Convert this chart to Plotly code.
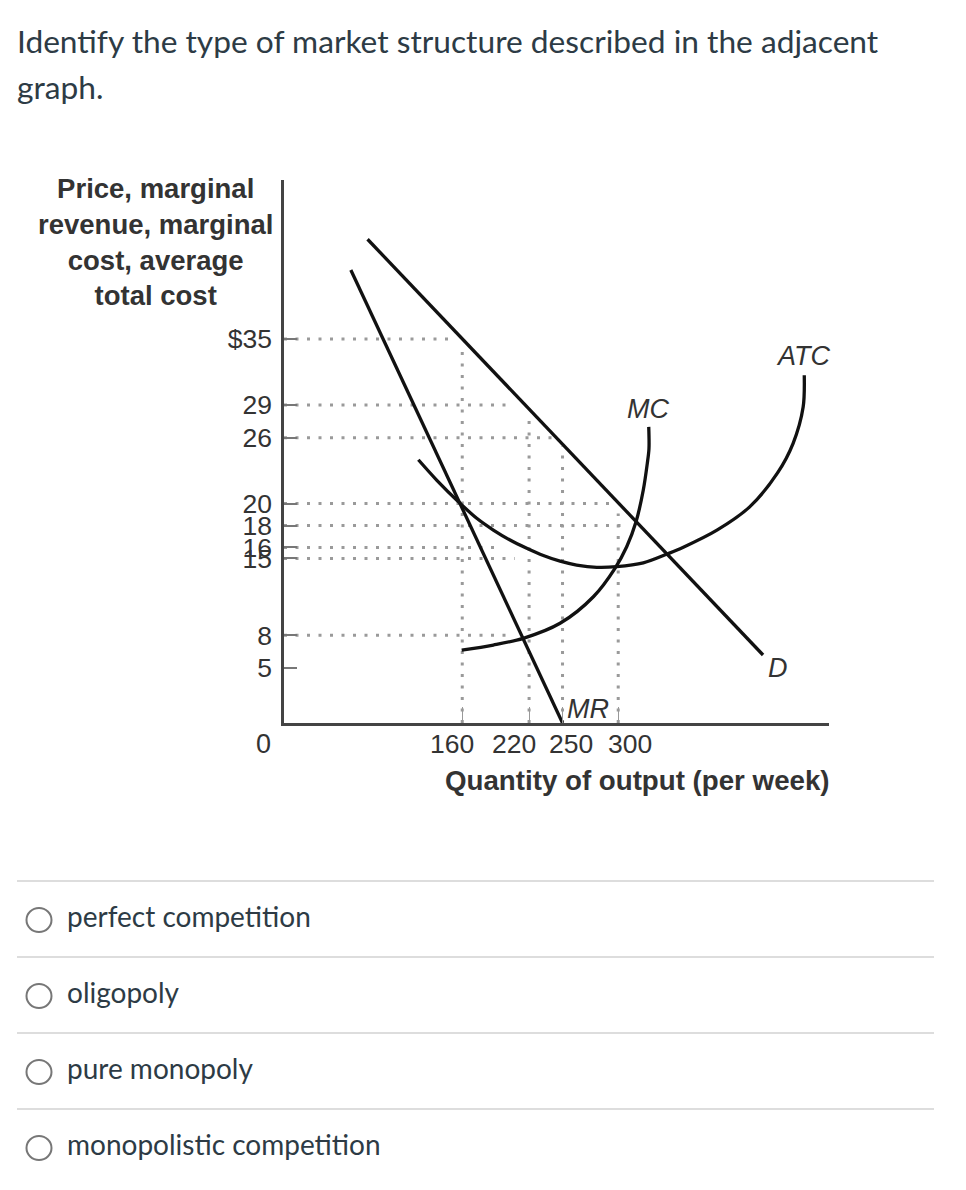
import plotly.graph_objects as go

# ---------------- data ----------------
price_ticks = [35, 29, 26, 20, 18, 16, 15, 8, 5]
price_tick_text = ["$35", "29", "26", "20", "18", "16", "15", "8", "5"]
qty_ticks = [160, 220, 250, 300]
qty_tick_text = ["160", "220", "250", "300"]

demand_q = [75, 430]
demand_p = [44.1, 6.2]

mr_q = [60, 250]
mr_p = [41.3, 0.0]

atc_q = [120.6, 137, 158, 173, 187.9, 202.9, 217.9, 232.8, 247.8, 262.7, 280.7, 298.7,
         322.5, 345, 358, 389, 418, 443, 457, 466, 467]
atc_p = [24.0, 22.15, 20.03, 18.66, 17.59, 16.68, 15.93, 15.27, 14.75, 14.40, 14.19, 14.25,
         14.60, 15.45, 16.0, 17.6, 19.7, 22.8, 25.5, 28.8, 31.7]

mc_q = [159.5, 187.9, 214.8, 247.8, 277.7, 297.1, 307.6, 316.0, 322.5, 326.1, 327.6, 327.4]
mc_p = [6.65, 7.11, 7.72, 9.09, 11.51, 14.10, 16.07, 18.35, 21.24, 23.67, 25.0, 27.0]

# dotted guide lines: horizontal (price level, quantity where it stops)
guide_h_p = [35, 29, 26, 20, 18, 16, 15, 8]
guide_h_q = [150, 203, 245, 293, 309, 192, 207, 205]
# vertical (quantity, price where it starts)
guide_v_q = [160, 220, 250, 300]
guide_v_p = [34.0, 28.0, 25.2, 19.1]

question_lines = ["Identify the type of market structure described in the adjacent", "graph."]
options = ["perfect competition", "oligopoly", "pure monopoly", "monopolistic competition"]
y_title = "Price, marginal<br>revenue, marginal<br>cost, average<br>total cost"
x_title = "Quantity of output (per week)"

# ---------------- layout geometry ----------------
PAGE = 8                      # browser body margin
W, H = 966 - 2 * PAGE, 1190 - 2 * PAGE
L, R, T, B = 284, 829, 180, 723  # plot area in page pixels
X_MAX = 489.2
Y_MAX = 49.5


def px(x):
    return (x - L) / (R - L)


def py(y):
    return (B - y) / (B - T)


AX = "#444444"
TXT = "#333333"
CURVE = "#111111"
GUIDE = "#9a9a9a"
ARIAL = "Liberation Sans, Arial, sans-serif"
LATO = "Lato, sans-serif"

fig = go.Figure()

for p, q in zip(guide_h_p, guide_h_q):
    fig.add_trace(go.Scatter(x=[0, q], y=[p, p], mode="lines",
                             line=dict(color=GUIDE, width=3, dash="3px,8.5px"),
                             hoverinfo="skip", showlegend=False))
for q, p in zip(guide_v_q, guide_v_p):
    fig.add_trace(go.Scatter(x=[q, q], y=[0, p], mode="lines",
                             line=dict(color=GUIDE, width=3, dash="3px,8.5px"),
                             hoverinfo="skip", showlegend=False))

curve_line = dict(color=CURVE, width=3.3)
fig.add_trace(go.Scatter(x=demand_q, y=demand_p, mode="lines", line=curve_line,
                         name="D", showlegend=False))
fig.add_trace(go.Scatter(x=mr_q, y=mr_p, mode="lines", line=curve_line,
                         name="MR", showlegend=False))
fig.add_trace(go.Scatter(x=atc_q, y=atc_p, mode="lines",
                         line=dict(color=CURVE, width=3.3, shape="spline", smoothing=0.9),
                         name="ATC", showlegend=False))
fig.add_trace(go.Scatter(x=mc_q, y=mc_p, mode="lines",
                         line=dict(color=CURVE, width=3.3, shape="spline", smoothing=0.9),
                         name="MC", showlegend=False))

annotations = []
# curve labels
for txt, x, y in [("ATC", 466, 33.5), ("MC", 327, 28.6), ("D", 443, 5.0), ("MR", 273, 1.3)]:
    annotations.append(dict(x=x, y=y, xref="x", yref="y", text="<i>%s</i>" % txt,
                            showarrow=False, font=dict(family=ARIAL, size=27, color=TXT)))

# x tick labels (spread apart as in the original)
label_shift = [-10, -15, 8, 12]
for q, t, s in zip(qty_ticks, qty_tick_text, label_shift):
    annotations.append(dict(x=q, y=0, xref="x", yref="y", text=t, showarrow=False,
                            xanchor="center", yanchor="middle", yshift=-21, xshift=s,
                            font=dict(family=ARIAL, size=26.5, color=TXT)))
# zero label at the corner
annotations.append(dict(x=0, y=0, xref="x", yref="y", text="0", showarrow=False,
                        xanchor="right", yanchor="middle", xshift=-11, yshift=-21,
                        font=dict(family=ARIAL, size=27, color=TXT)))
# axis titles
annotations.append(dict(x=px(155), y=py(242), xref="paper", yref="paper", text="<b>%s</b>" % y_title,
                        showarrow=False, xanchor="center", yanchor="middle", align="center",
                        font=dict(family=ARIAL, size=27.5, color=TXT)))
annotations.append(dict(x=px(637), y=py(780), xref="paper", yref="paper", text="<b>%s</b>" % x_title,
                        showarrow=False, xanchor="center", yanchor="middle",
                        font=dict(family=ARIAL, size=27.7, color=TXT)))
# question text
for i, line in enumerate(question_lines):
    annotations.append(dict(x=px(15), y=py(41 + 46 * i), xref="paper", yref="paper", text=line,
                            showarrow=False, xanchor="left", yanchor="middle",
                            font=dict(family=LATO, size=31.7, color="#2d3b45")))

shapes = []
sep_y = [881, 957, 1033, 1109]
for i, opt in enumerate(options):
    yy = sep_y[i]
    shapes.append(dict(type="line", xref="paper", yref="paper", x0=px(17), x1=px(934),
                       y0=py(yy), y1=py(yy), line=dict(color="#dddddd", width=2)))
    cy = yy + 39
    shapes.append(dict(type="circle", xref="paper", yref="paper",
                       x0=px(39 - 12.5), x1=px(39 + 12.5), y0=py(cy + 12), y1=py(cy - 12),
                       line=dict(color="#777777", width=2), fillcolor="white"))
    annotations.append(dict(x=px(65), y=py(yy + 35), xref="paper", yref="paper", text=opt,
                            showarrow=False, xanchor="left", yanchor="middle",
                            font=dict(family=LATO, size=28, color="#2d3b45")))

fig.update_layout(
    width=W, height=H,
    margin=dict(l=L - PAGE, r=W - (R - PAGE), t=T - PAGE, b=H - (B - PAGE), pad=0),
    paper_bgcolor="white", plot_bgcolor="white",
    showlegend=False,
    annotations=annotations, shapes=shapes,
    xaxis=dict(range=[0, X_MAX], showgrid=False, zeroline=False,
               showline=True, linecolor=AX, linewidth=2.5,
               tickmode="array", tickvals=qty_ticks, ticktext=["" for _ in qty_ticks],
               ticks="inside", ticklen=16, tickwidth=1.2, tickcolor="#999999"),
    yaxis=dict(range=[0, Y_MAX], showgrid=False, zeroline=False,
               showline=True, linecolor=AX, linewidth=2.5,
               tickmode="array", tickvals=price_ticks, ticktext=price_tick_text,
               ticks="inside", ticklen=13, tickwidth=2, tickcolor="#777777",
               tickfont=dict(family=ARIAL, size=26.5, color=TXT), ticklabelstandoff=4),
)

fig.write_html("out.html")
